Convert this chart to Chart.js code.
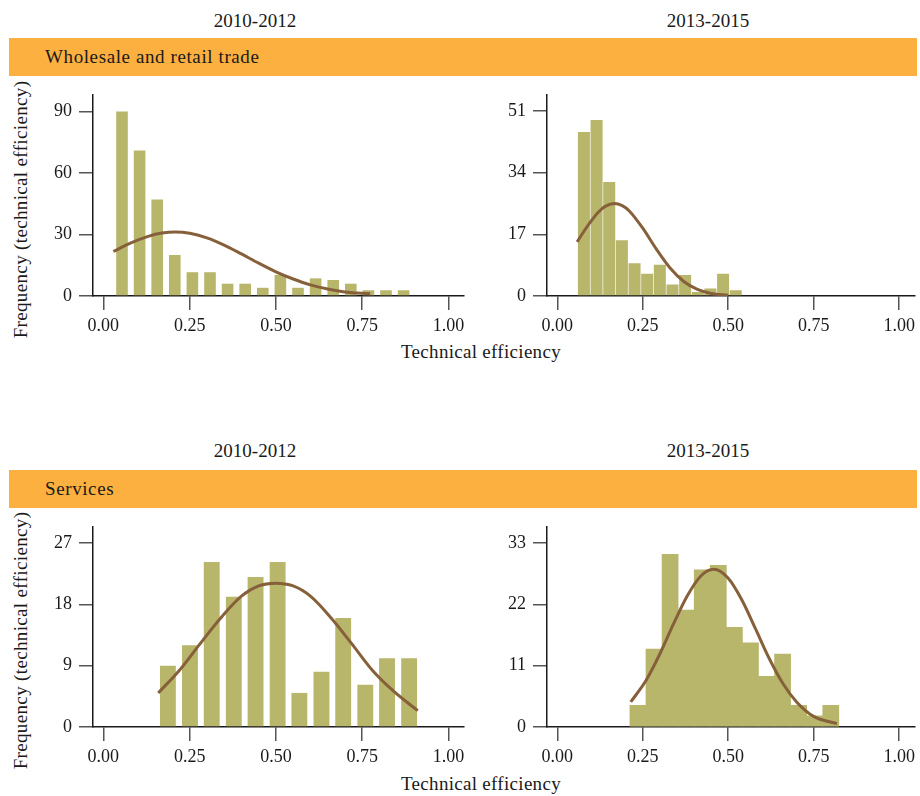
<!DOCTYPE html>
<html>
<head>
<meta charset="utf-8">
<script src="https://cdn.jsdelivr.net/npm/chart.js@4.4.1/dist/chart.umd.min.js"></script>
<style>
body { margin: 0; background: #fff; }
#page { position: relative; width: 920px; height: 796px; overflow: hidden; font-family: "Liberation Serif", serif; color: #1a1a1a; }
.t { position: absolute; font-size: 19px; line-height: 19px; white-space: nowrap; }
.band { position: absolute; left: 9px; width: 908px; height: 38px; background: #fbb040; }
.bandtxt { letter-spacing: 0.6px; }
.axt { letter-spacing: 0.3px; }
.box { position: absolute; }
.ytitle { width: 320px; text-align: center; transform: rotate(-90deg); letter-spacing: 0.35px; }
</style>
</head>
<body>
<div id="page">
  <div class="t" style="left:155px;width:200px;text-align:center;top:11px">2010-2012</div>
  <div class="t" style="left:608px;width:200px;text-align:center;top:11px">2013-2015</div>
  <div class="band" style="top:38px"></div>
  <div class="t bandtxt" style="left:45px;top:47px">Wholesale and retail trade</div>

  <div class="t" style="left:155px;width:200px;text-align:center;top:441px">2010-2012</div>
  <div class="t" style="left:608px;width:200px;text-align:center;top:441px">2013-2015</div>
  <div class="band" style="top:470px"></div>
  <div class="t bandtxt" style="left:45px;top:479px">Services</div>

  <div class="t ytitle" style="left:-140px;top:200px">Frequency (technical efficiency)</div>
  <div class="t ytitle" style="left:-140px;top:631px">Frequency (technical efficiency)</div>
  <div class="t axt" style="left:331px;width:300px;text-align:center;top:342px">Technical efficiency</div>
  <div class="t axt" style="left:331px;width:300px;text-align:center;top:774px">Technical efficiency</div>

  <div class="box" style="left:30px;top:75px;width:444px;height:265px"><canvas id="c1"></canvas></div>
  <div class="box" style="left:490px;top:75px;width:430px;height:265px"><canvas id="c2"></canvas></div>
  <div class="box" style="left:30px;top:507px;width:444px;height:264px"><canvas id="c3"></canvas></div>
  <div class="box" style="left:490px;top:507px;width:430px;height:264px"><canvas id="c4"></canvas></div>
</div>
<script>
var xTicks = [0, 0.25, 0.5, 0.75, 1];
var xTickLabels = ['0.00', '0.25', '0.50', '0.75', '1.00'];

// Wholesale and retail trade, 2010-2012
var wr1Bins = [0.054, 0.105, 0.156, 0.207, 0.258, 0.309, 0.360, 0.411, 0.462, 0.513, 0.564, 0.615, 0.666, 0.717, 0.768, 0.819, 0.870];
var wr1Freq = [90, 71, 47, 20, 11.6, 11.6, 6, 6, 4, 10.3, 4, 8.6, 7.8, 6, 2.8, 2.8, 2.8];
var wr1CurveX = [0.029, 0.08, 0.13, 0.17, 0.208, 0.25, 0.30, 0.35, 0.40, 0.45, 0.50, 0.55, 0.60, 0.65, 0.70, 0.773];
var wr1CurveY = [21.7, 25.9, 29.1, 30.7, 31.2, 30.6, 28.3, 24.8, 20.5, 16.0, 11.8, 8.3, 5.4, 3.4, 2.0, 1.1];
var wr1YTicks = [0, 30, 60, 90];

// Wholesale and retail trade, 2013-2015
var wr2Bins = [0.078, 0.115, 0.152, 0.189, 0.226, 0.263, 0.300, 0.337, 0.374, 0.411, 0.448, 0.485, 0.522];
var wr2Freq = [45.2, 48.5, 31.4, 15.4, 9, 6.1, 8.6, 3.2, 5.8, 1.1, 2.1, 6.1, 1.6];
var wr2CurveX = [0.058, 0.09, 0.12, 0.14, 0.167, 0.19, 0.21, 0.25, 0.29, 0.33, 0.37, 0.41, 0.45, 0.50];
var wr2CurveY = [14.9, 19.5, 23.1, 24.7, 25.5, 24.9, 23.5, 18.7, 12.9, 7.7, 4.0, 1.8, 0.7, 0.2];
var wr2YTicks = [0, 17, 34, 51];

// Services, 2010-2012
var sv1Bins = [0.187, 0.251, 0.314, 0.378, 0.441, 0.505, 0.568, 0.632, 0.695, 0.759, 0.822, 0.886];
var sv1Freq = [9, 12, 24.2, 19.1, 22, 24.2, 5, 8.1, 16, 6.2, 10.1, 10.1];
var sv1CurveX = [0.159, 0.22, 0.28, 0.34, 0.40, 0.45, 0.498, 0.55, 0.60, 0.66, 0.72, 0.78, 0.84, 0.911];
var sv1CurveY = [5.0, 8.3, 12.2, 16.0, 19.2, 20.7, 21.1, 20.7, 19.2, 16.0, 12.2, 8.3, 5.3, 2.4];
var sv1YTicks = [0, 9, 18, 27];

// Services, 2013-2015
var sv2Bins = [0.236, 0.283, 0.330, 0.377, 0.424, 0.471, 0.518, 0.565, 0.612, 0.659, 0.706, 0.753, 0.800];
var sv2Freq = [3.9, 14, 31, 21, 28.2, 29, 17.9, 15.1, 9.1, 13.1, 3.9, 2, 3.9];
var sv2CurveX = [0.215, 0.26, 0.30, 0.34, 0.38, 0.42, 0.457, 0.50, 0.54, 0.58, 0.62, 0.66, 0.70, 0.75, 0.818];
var sv2CurveY = [4.5, 8.4, 13.1, 18.5, 23.5, 27.1, 28.3, 26.7, 22.8, 17.6, 12.3, 7.8, 4.5, 1.9, 0.6];
var sv2YTicks = [0, 11, 22, 33];

var barColor = '#b8b66b';
var curveColor = '#86603a';
var tickFont = { family: 'Liberation Serif', size: 18 };

function zip(xs, ys) {
    return xs.map(function (x, i) { return { x: x, y: ys[i] }; });
}

function makePanel(id, bins, freq, cx, cy, yTicks, yMax, yWidth, padRight, barPct) {
    var ctx = document.getElementById(id).getContext('2d');
    return new Chart(ctx, {
        type: 'bar',
        data: {
            datasets: [{
                type: 'line',
                data: zip(cx, cy),
                borderColor: curveColor,
                borderWidth: 3,
                pointRadius: 0,
                cubicInterpolationMode: 'monotone',
                fill: false,
                order: 0
            }, {
                type: 'bar',
                data: zip(bins, freq),
                backgroundColor: barColor,
                borderWidth: 0,
                categoryPercentage: 1,
                barPercentage: barPct,
                order: 1
            }]
        },
        options: {
            responsive: true,
            maintainAspectRatio: false,
            animation: false,
            layout: { padding: { top: 20, right: padRight, left: 0, bottom: 0 } },
            plugins: { legend: { display: false }, tooltip: { enabled: false } },
            scales: {
                x: {
                    type: 'linear',
                    offset: false,
                    min: -0.03,
                    max: 1.045,
                    afterBuildTicks: function (s) { s.ticks = xTicks.map(function (v) { return { value: v }; }); },
                    afterFit: function (s) { s.height = 44; },
                    ticks: {
                        autoSkip: false,
                        maxRotation: 0,
                        padding: 5,
                        color: '#1a1a1a',
                        font: tickFont,
                        callback: function (v, i) { return xTickLabels[i]; }
                    },
                    grid: { offset: false, drawOnChartArea: false, drawTicks: true, tickLength: 14, color: '#555', lineWidth: 1.5 },
                    border: { display: true, color: '#1a1a1a', width: 1.5 }
                },
                y: {
                    min: 0,
                    max: yMax,
                    afterBuildTicks: function (s) { s.ticks = yTicks.map(function (v) { return { value: v }; }); },
                    afterFit: function (s) { s.width = yWidth; },
                    ticks: {
                        autoSkip: false,
                        padding: 7,
                        color: '#1a1a1a',
                        font: tickFont
                    },
                    grid: { drawOnChartArea: false, drawTicks: true, tickLength: 14, color: '#555', lineWidth: 1.5 },
                    border: { display: true, color: '#1a1a1a', width: 1.5 }
                }
            }
        }
    });
}

makePanel('c1', wr1Bins, wr1Freq, wr1CurveX, wr1CurveY, wr1YTicks, 98, 63, 10, 0.66);
makePanel('c2', wr2Bins, wr2Freq, wr2CurveX, wr2CurveY, wr2YTicks, 55.4, 57, 2, 0.95);
makePanel('c3', sv1Bins, sv1Freq, sv1CurveX, sv1CurveY, sv1YTicks, 29.35, 63, 10, 0.73);
makePanel('c4', sv2Bins, sv2Freq, sv2CurveX, sv2CurveY, sv2YTicks, 35.9, 57, 2, 1);
</script>
</body>
</html>
